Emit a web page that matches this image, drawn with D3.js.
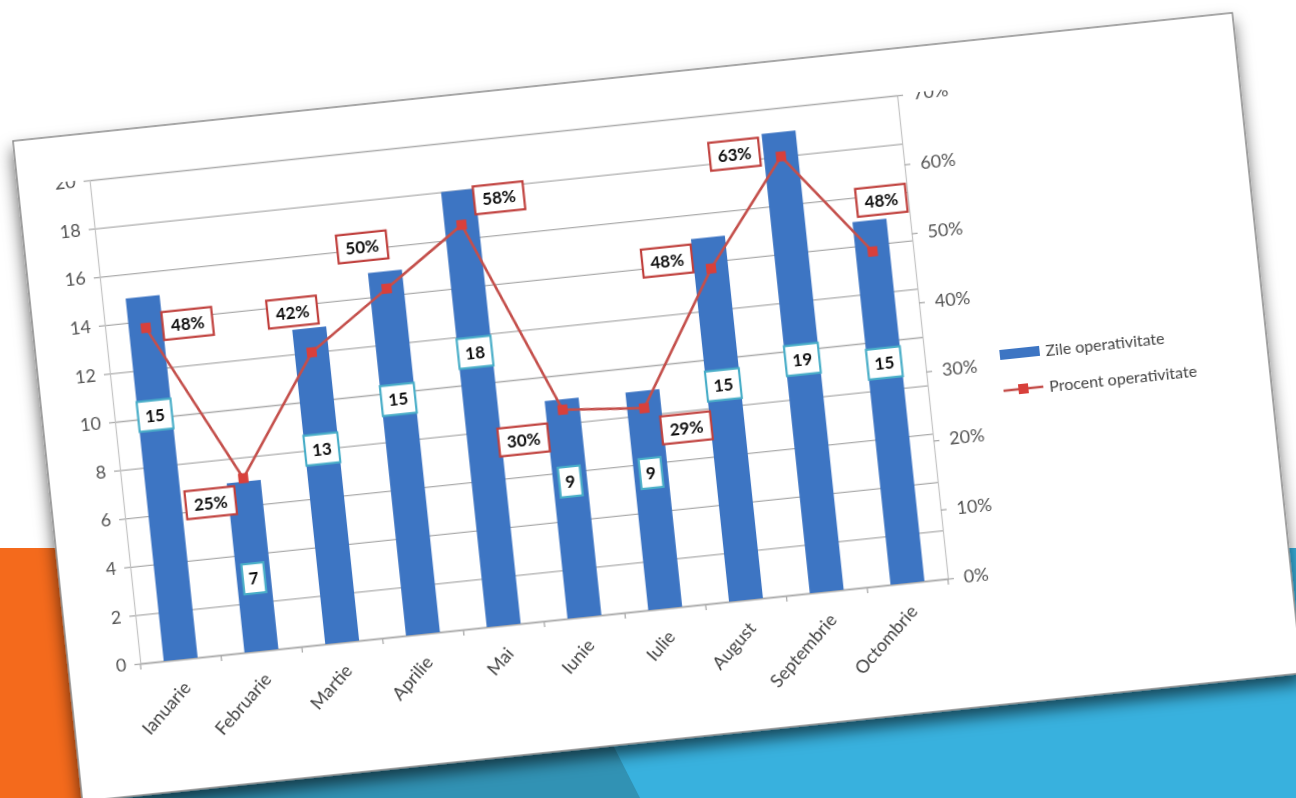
<!DOCTYPE html>
<html><head><meta charset="utf-8">
<script src="https://cdn.jsdelivr.net/npm/d3@7"></script>
<style>html,body{margin:0;padding:0;background:#fff;overflow:hidden}</style>
</head><body>
<svg id="c" width="1296" height="798"></svg>
<script>
// ---- data ----
const categories = ["Ianuarie","Februarie","Martie","Aprilie","Mai","Iunie","Iulie","August","Septembrie","Octombrie"];
const zileOperativitate = [15,7,13,15,18,9,9,15,19,15];
const procentOperativitate = [48,25,42,50,58,30,29,48,63,48];
const leftTicks = [0,2,4,6,8,10,12,14,16,18,20];
const rightTicks = [0,10,20,30,40,50,60,70];
const seriesNames = ["Zile operativitate","Procent operativitate"];
// ---- label layout (placement only) ----
const barLabelAt = [10.1,3.0,8.0,9.7,11.3,5.6,5.6,8.9,9.6,9.1];
const pctLabelOffset = [[42,0],[-35,21],[-15,-42],[-20,-44],[40,-23],[-42,26],[40,24],[-43,-12],[-46,-7],[14,-50]];

const FONT = "Lato, 'Open Sans', sans-serif";
const BAR = "#3d74c3", LINE = "#c4504c", MARK = "#d8403a";
const svg = d3.select("#c");
const defs = svg.append("defs");
const f = defs.append("filter").attr("id","sh").attr("x","-10%").attr("y","-10%").attr("width","120%").attr("height","125%");
f.append("feDropShadow").attr("dx",-1).attr("dy",9).attr("stdDeviation",8).attr("flood-color","#000").attr("flood-opacity",0.6);
defs.append("filter").attr("id","soft").attr("x","-5%").attr("y","-5%").attr("width","110%").attr("height","110%")
  .append("feGaussianBlur").attr("stdDeviation",0.65);
defs.append("clipPath").attr("id","topclip").append("rect").attr("x",-200).attr("y",46).attr("width",1600).attr("height",1000);

// slide background
svg.append("rect").attr("x",0).attr("y",548).attr("width",400).attr("height",250).attr("fill","#f46a1c");
svg.append("rect").attr("x",95).attr("y",548).attr("width",1201).attr("height",250).attr("fill","#38b1de");
svg.append("polygon").attr("points","95,690 585,690 640,798 95,798").attr("fill","#3192b4");

// chart card (photographed at a tilt)
const cardOuter = svg.append("g").attr("transform","translate(13,141) rotate(-6)");
cardOuter.append("rect").attr("width",1226).attr("height",664).attr("fill","#fff")
  .attr("stroke","#8c8c8c").attr("stroke-width",1.5).attr("filter","url(#sh)");
const card = cardOuter.append("g").attr("filter","url(#soft)");

const L = 72, R = 884, T = 47, B = 533;
const x = d3.scaleBand().domain(categories).range([L,R]).paddingInner(0.58).paddingOuter(0.29);
const cx = c => x(c) + x.bandwidth()/2;
const yL = d3.scaleLinear().domain([0,20]).range([B,T]);
const yR = d3.scaleLinear().domain([0,70]).range([B,T]);

// gridlines
const grid = card.append("g").call(d3.axisLeft(yL).tickValues(leftTicks).tickSize(-(R-L)).tickFormat(""))
  .attr("transform",`translate(${L},0)`);
grid.select(".domain").remove();
grid.selectAll("line").attr("stroke","#acacac").attr("stroke-width",1.3);

// left axis
const lab = card.append("g").attr("clip-path","url(#topclip)");
const ax = lab.append("g").attr("transform",`translate(${L},0)`)
  .call(d3.axisLeft(yL).tickValues(leftTicks).tickSize(6).tickPadding(8).tickFormat(d3.format("d")));
ax.select(".domain").attr("stroke","#c4c4c4").attr("stroke-width",1.2);
ax.selectAll("line").attr("stroke","#acacac").attr("stroke-width",1.3);
ax.selectAll("text").attr("font-family",FONT).attr("font-size",18).attr("fill","#555");

// right axis
const ar = lab.append("g").attr("transform",`translate(${R},0)`)
  .call(d3.axisRight(yR).tickValues(rightTicks).tickSize(6).tickPadding(10).tickFormat(d => d + "%"));
ar.select(".domain").attr("stroke","#c4c4c4").attr("stroke-width",1.2);
ar.selectAll("line").attr("stroke","#acacac").attr("stroke-width",1.3);
ar.selectAll("text").attr("font-family",FONT).attr("font-size",18).attr("fill","#555");

// bottom axis
const ab = card.append("g").attr("transform",`translate(0,${B})`)
  .call(d3.axisBottom(x).tickSize(0).tickFormat(""));
ab.select(".domain").attr("stroke","#acacac").attr("stroke-width",1.3);
d3.range(categories.length + 1).forEach(i => {
  card.append("line").attr("x1",L + i*x.step()).attr("x2",L + i*x.step()).attr("y1",B).attr("y2",B+6)
    .attr("stroke","#acacac").attr("stroke-width",1.3);
});
card.append("g").selectAll("text").data(categories).join("text")
  .attr("transform", d => `translate(${cx(d)+8},${B+30}) rotate(-43)`)
  .attr("text-anchor","end").attr("font-family",FONT).attr("font-size",18).attr("fill","#444")
  .text(d => d);

// bars
card.append("g").selectAll("rect").data(zileOperativitate).join("rect")
  .attr("x",(d,i) => x(categories[i])).attr("width",x.bandwidth())
  .attr("y",d => yL(d)).attr("height",d => yL(0) - yL(d)).attr("fill",BAR);

// line + markers
const line = d3.line().x((d,i) => cx(categories[i])).y(d => yR(d));
card.append("path").datum(procentOperativitate).attr("d",line).attr("fill","none")
  .attr("stroke",LINE).attr("stroke-width",2.6);
card.append("g").selectAll("rect").data(procentOperativitate).join("rect")
  .attr("x",(d,i) => cx(categories[i]) - 5).attr("y",d => yR(d) - 5)
  .attr("width",10).attr("height",10).attr("fill",MARK);

// bar value labels
const bl = card.append("g").selectAll("g").data(zileOperativitate).join("g")
  .attr("transform",(d,i) => `translate(${cx(categories[i])},${yL(barLabelAt[i])})`);
bl.append("rect").attr("x",d => String(d).length > 1 ? -17 : -11).attr("width",d => String(d).length > 1 ? 34 : 22)
  .attr("y",-15).attr("height",30).attr("fill","#fff").attr("stroke","#4aaec8").attr("stroke-width",2.2);
bl.append("text").attr("text-anchor","middle").attr("dy","0.36em").attr("font-family",FONT)
  .attr("font-weight","bold").attr("font-size",17).attr("fill","#111").text(d => d);

// percent labels
const pl = card.append("g").selectAll("g").data(procentOperativitate).join("g")
  .attr("transform",(d,i) => `translate(${cx(categories[i]) + pctLabelOffset[i][0]},${yR(d) + pctLabelOffset[i][1]})`);
pl.append("rect").attr("x",-25).attr("y",-14).attr("width",50).attr("height",28)
  .attr("fill","#fff").attr("stroke","#c0403d").attr("stroke-width",2.2);
pl.append("text").attr("text-anchor","middle").attr("dy","0.36em").attr("font-family",FONT)
  .attr("font-weight","bold").attr("font-size",17).attr("fill","#111").text(d => d + "%");

// legend
const lg = card.append("g").attr("transform","translate(959,316)");
lg.append("rect").attr("x",0).attr("y",-5).attr("width",40).attr("height",10).attr("fill",BAR);
lg.append("text").attr("x",46).attr("dy","0.35em").attr("font-family",FONT).attr("font-size",16).attr("fill","#444").text(seriesNames[0]);
const lg2 = card.append("g").attr("transform","translate(959,352)");
lg2.append("line").attr("x1",0).attr("x2",40).attr("stroke",LINE).attr("stroke-width",2.6);
lg2.append("rect").attr("x",15).attr("y",-5).attr("width",10).attr("height",10).attr("fill",MARK);
lg2.append("text").attr("x",46).attr("dy","0.35em").attr("font-family",FONT).attr("font-size",16).attr("fill","#444").text(seriesNames[1]);
</script>
</body></html>
